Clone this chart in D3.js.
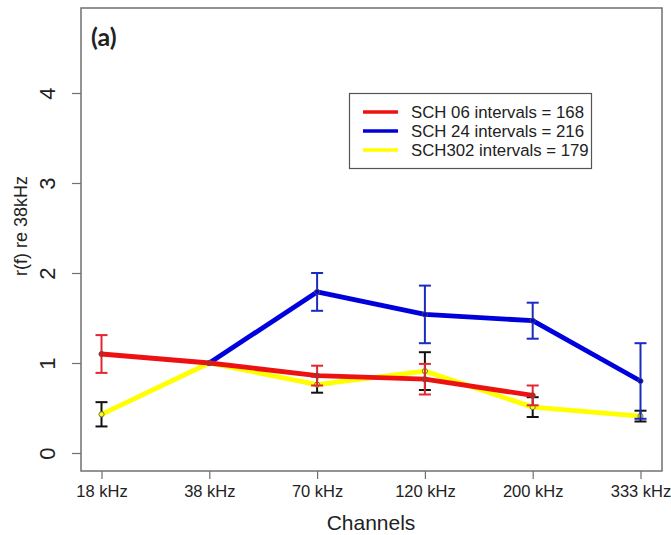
<!DOCTYPE html>
<meta charset="utf-8">
<script src="https://cdn.jsdelivr.net/npm/d3@7"></script>
<style>
body { margin: 0; background: #fff; }
text { font-family: "Liberation Sans", Arial, sans-serif; fill: #222; }
</style>
<body>
<script>

// channels on the x axis
var channels = ["18 kHz", "38 kHz", "70 kHz", "120 kHz", "200 kHz", "333 kHz"];

// r(f) relative to 38 kHz, with error bar half-widths (null = no value)
var sch06 = [1.10, 1.00, 0.86, 0.82, 0.64, null];
var sch06Err = [0.21, 0, 0.11, 0.17, 0.11, null];
var sch24 = [null, 1.00, 1.79, 1.54, 1.47, 0.80];
var sch24Err = [null, 0, 0.21, 0.32, 0.20, 0.42];
var sch302 = [0.43, 1.00, 0.76, 0.91, 0.51, 0.41];
var sch302Err = [0.135, 0, 0.09, 0.21, 0.11, 0.06];

var yTicks = [0, 1, 2, 3, 4];
var legendLabels = ["SCH 06 intervals = 168", "SCH 24 intervals = 216", "SCH302 intervals = 179"];

var width = 671, height = 535;
var frame = {left: 81, top: 8, right: 662, bottom: 471};

var svg = d3.select("body").append("svg")
    .attr("width", width)
    .attr("height", height);

var x = d3.scalePoint()
    .domain(channels)
    .range([101.5, 640.5]);

var y = d3.scaleLinear()
    .domain([0, 4])
    .range([453, 93]);

// box round the plot
svg.append("rect")
    .attr("x", frame.left)
    .attr("y", frame.top)
    .attr("width", frame.right - frame.left)
    .attr("height", frame.bottom - frame.top)
    .attr("fill", "none")
    .attr("stroke", "#707070")
    .attr("stroke-width", 1.5);

// x axis
var xAxis = svg.append("g")
    .attr("transform", "translate(0," + frame.bottom + ")")
    .call(d3.axisBottom(x).tickSize(8).tickPadding(6));
xAxis.select(".domain").remove();
xAxis.selectAll("line").attr("stroke", "#707070").attr("stroke-width", 1.2);
xAxis.selectAll("text")
    .style("font-family", "'Liberation Sans', Arial, sans-serif")
    .style("font-size", "16.5px")
    .attr("fill", "#222");

// y axis, R style rotated labels
var yAxis = svg.append("g")
    .attr("transform", "translate(" + frame.left + ",0)")
    .call(d3.axisLeft(y).tickValues(yTicks).tickSize(9).tickFormat(d3.format("d")));
yAxis.select(".domain").remove();
yAxis.selectAll("line").attr("stroke", "#707070").attr("stroke-width", 1.2);
yAxis.selectAll("text")
    .attr("x", null).attr("dy", null)
    .attr("text-anchor", "middle")
    .attr("transform", "translate(-34,0) rotate(-90)")
    .attr("dy", "0.35em")
    .style("font-family", "'Liberation Sans', Arial, sans-serif")
    .style("font-size", "22px")
    .attr("fill", "#222");

svg.append("text")
    .attr("transform", "translate(21,226) rotate(-90)")
    .attr("text-anchor", "middle")
    .attr("dy", "0.35em")
    .style("font-size", "18px")
    .text("r(f) re 38kHz");

svg.append("text")
    .attr("x", 371)
    .attr("y", 530)
    .attr("text-anchor", "middle")
    .style("font-size", "21px")
    .text("Channels");

svg.append("text")
    .attr("x", 91)
    .attr("y", 46)
    .style("font-family", "Lato, 'Open Sans', sans-serif")
    .style("font-weight", "bold")
    .style("font-size", "25px")
    .attr("fill", "#111")
    .text("(a)");

// series drawn bottom first
var series = [
  {vals: sch302, err: sch302Err, color: "#ffff00", errColor: "#111111"},
  {vals: sch24, err: sch24Err, color: "#0000dd", errColor: "#1a2bc0"},
  {vals: sch06, err: sch06Err, color: "#ee1111", errColor: "#e32630"}
];

var line = d3.line()
    .defined(function(d) { return d.v != null; })
    .x(function(d) { return x(d.c); })
    .y(function(d) { return y(d.v); });

series.forEach(function(s) {
  var pts = channels.map(function(c, i) { return {c: c, v: s.vals[i], e: s.err[i]}; });
  var g = svg.append("g");

  g.append("path")
      .datum(pts)
      .attr("d", line)
      .attr("fill", "none")
      .attr("stroke", s.color)
      .attr("stroke-width", 4.8)
      .attr("stroke-linejoin", "round");

  var bars = pts.filter(function(d) { return d.v != null && d.e > 0; });
  var eb = g.selectAll(".err")
      .data(bars)
      .enter().append("g")
      .attr("stroke", s.errColor)
      .attr("stroke-width", 2);
  eb.append("line")
      .attr("x1", function(d) { return x(d.c); })
      .attr("x2", function(d) { return x(d.c); })
      .attr("y1", function(d) { return y(d.v + d.e); })
      .attr("y2", function(d) { return y(d.v - d.e); });
  eb.append("line")
      .attr("x1", function(d) { return x(d.c) - 6; })
      .attr("x2", function(d) { return x(d.c) + 6; })
      .attr("y1", function(d) { return y(d.v + d.e); })
      .attr("y2", function(d) { return y(d.v + d.e); });
  eb.append("line")
      .attr("x1", function(d) { return x(d.c) - 6; })
      .attr("x2", function(d) { return x(d.c) + 6; })
      .attr("y1", function(d) { return y(d.v - d.e); })
      .attr("y2", function(d) { return y(d.v - d.e); });

  g.selectAll("circle")
      .data(pts.filter(function(d) { return d.v != null; }))
      .enter().append("circle")
      .attr("cx", function(d) { return x(d.c); })
      .attr("cy", function(d) { return y(d.v); })
      .attr("r", 2.6)
      .attr("fill", s.color)
      .attr("stroke", "#555")
      .attr("stroke-width", 0.8);
});

// legend
var legendColors = ["#ee1111", "#0000dd", "#ffff00"];
var legend = svg.append("g");
legend.append("rect")
    .attr("x", 349.5)
    .attr("y", 93.5)
    .attr("width", 242)
    .attr("height", 75)
    .attr("fill", "#fff")
    .attr("stroke", "#555")
    .attr("stroke-width", 1.2);

var rows = legend.selectAll(".row")
    .data(legendLabels)
    .enter().append("g")
    .attr("transform", function(d, i) { return "translate(0," + (112 + i * 19) + ")"; });
rows.append("line")
    .attr("x1", 363).attr("x2", 398)
    .attr("stroke", function(d, i) { return legendColors[i]; })
    .attr("stroke-width", 3.5);
rows.append("text")
    .attr("x", 411)
    .attr("dy", "0.36em")
    .style("font-size", "16.8px")
    .text(function(d) { return d; });

</script>
</body>
